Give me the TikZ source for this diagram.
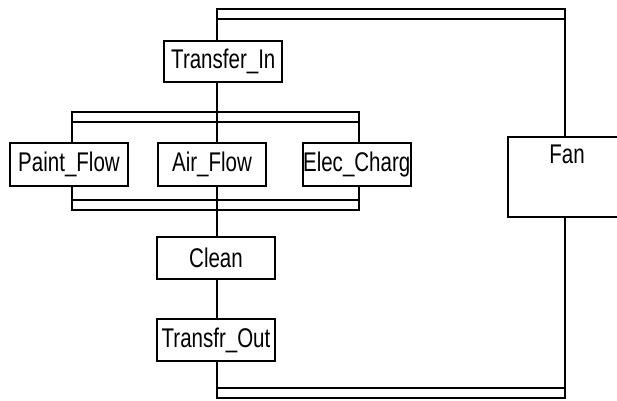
\documentclass[tikz,border=0pt]{standalone}
\usepackage{fontspec}
\setmainfont[FakeStretch=0.76]{Liberation Sans}
\begin{document}
\begin{tikzpicture}[x=1pt,y=-1pt,line width=2pt,
  box/.style={draw,rectangle,inner sep=0pt,font=\fontsize{27}{27}\selectfont,line width=2pt},
  wire/.style={line width=2pt}]
\useasboundingbox (0,0) rectangle (617,400);
% step boxes
\node[box,minimum width=118,minimum height=41] (tin) at (223.3,61.5) {Transfer\_In};
\node[box,minimum width=118,minimum height=43] (paint) at (69,164.2) {Paint\_Flow};
\node[box,minimum width=108,minimum height=43] (air) at (212,164.2) {Air\_Flow};
\node[box,minimum width=108,minimum height=43] (elec) at (356.7,164.2) {Elec\_Charg};
\node[box,minimum width=118,minimum height=42] (clean) at (216,257.8) {Clean};
\node[box,minimum width=118,minimum height=42] (tout) at (216,340) {Transfr\_Out};
\node[box,minimum width=124,minimum height=80,
  label={[font=\fontsize{27}{27}\selectfont,anchor=north,yshift=-5pt,xshift=-3pt]north:Fan}] (fan) at (570,176.7) {};
% double bars
\coordinate (a1) at (217,9.3);  \coordinate (a2) at (565,19.3);
\coordinate (b1) at (72,111.7); \coordinate (b2) at (359.3,121.7);
\coordinate (c1) at (72,200);   \coordinate (c2) at (359.3,210);
\coordinate (d1) at (217,388.3);\coordinate (d2) at (565,398.3);
\draw[wire] (a1) rectangle (a2);
\draw[wire] (b1) rectangle (b2);
\draw[wire] (c1) rectangle (c2);
\draw[wire] (d1) rectangle (d2);
% connectors
\draw[wire] (a1 |- a2) -- (a1 |- tin.north);
\draw[wire] (a1 |- tin.south) -- (a1 |- air.north);
\draw[wire] (b1 |- b2) -- (b1 |- paint.north);
\draw[wire] (b2) -- (b2 |- elec.north);
\draw[wire] (b1 |- paint.south) -- (c1);
\draw[wire] (b2 |- elec.south) -- (b2 |- c1);
\draw[wire] (a1 |- air.south) -- (a1 |- clean.north);
\draw[wire] (a1 |- clean.south) -- (a1 |- tout.north);
\draw[wire] (a1 |- tout.south) -- (d1);
\draw[wire] (d2 |- d1) -- (d2 |- fan.south);
\draw[wire] (a2 |- fan.north) -- (a2);
\end{tikzpicture}
\end{document}
